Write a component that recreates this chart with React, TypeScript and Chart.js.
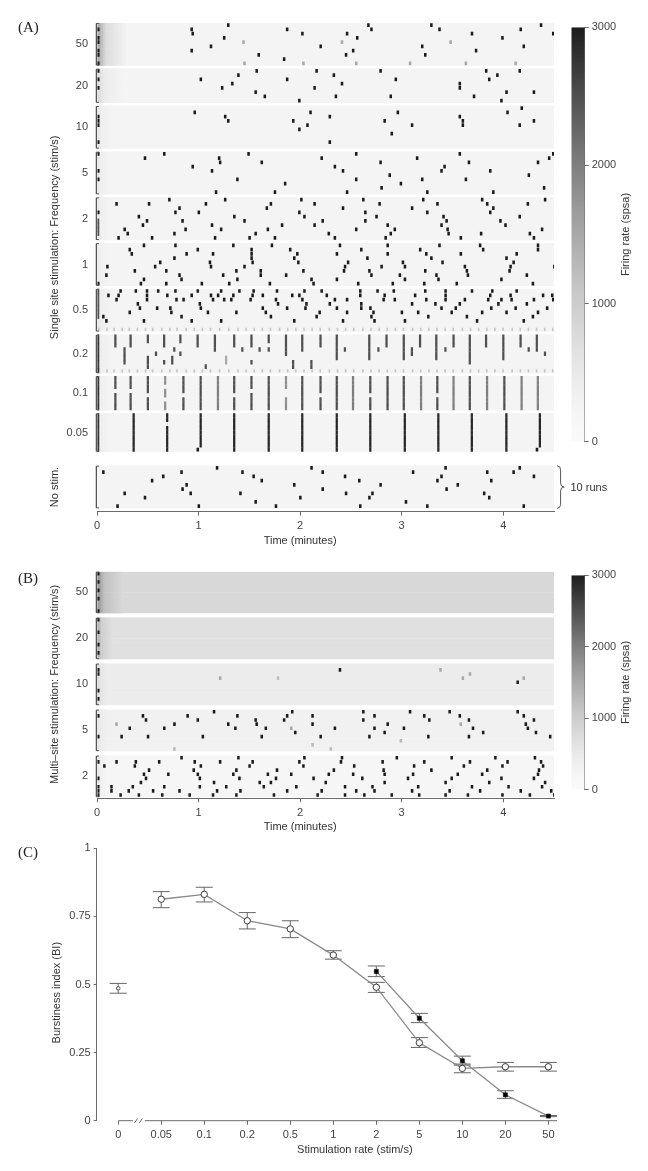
import React, { useEffect, useRef } from 'react';
import { Chart, registerables } from 'chart.js';

Chart.register(...registerables);

// ---------------- shared values ----------------
const TIME_MAX = 4.5; // minutes
const TIME_TICKS = [0, 1, 2, 3, 4];
const RATE_MAX = 3000; // spsa
const COLORBAR_TICKS = [0, 1000, 2000, 3000];
const DOT_RATE = 3000;
const VBAR_RATE = 2500;
const STIM_RATE = 1100;

// Stimulus-locked weak responses (minutes), seen in one row of the 0.5 and 0.2 strips
const STIM_TICKS = [0.01, 0.09, 0.16, 0.24, 0.31, 0.39, 0.47, 0.54, 0.63, 0.71, 0.78, 0.87, 0.95, 1.03, 1.11, 1.2, 1.29, 1.38, 1.46, 1.54, 1.62, 1.7, 1.79, 1.87, 1.95, 2.03, 2.11, 2.19, 2.28, 2.36, 2.44, 2.52, 2.61, 2.69, 2.77, 2.85, 2.93, 3.01, 3.1, 3.18, 3.26, 3.34, 3.42, 3.5, 3.59, 3.67, 3.75, 3.83, 3.91, 3.99, 4.08, 4.16, 4.24, 4.32, 4.4, 4.48];

// ---------------- Panel A: single-site stimulation ----------------
const A_LABELS = ['50', '20', '10', '5', '2', '1', '0.5', '0.2', '0.1', '0.05', ''];
const A_RUNS = [10, 8, 10, 10, 10, 10, 10, 9, 8, 9, 10];
const A_BASE = [260, 250, 250, 250, 250, 250, 250, 250, 250, 250, 250];
const A_ONSET = [1600, 800, 600, 600, 600, 500, 600, 600, 600, 600, 0];
const A_ONSET_DUR = [0.3, 0.25, 0.15, 0.12, 0.12, 0.12, 0.15, 0.15, 0.12, 0.12, 0];

// bursts: [time (min), run, peak rate]
const A50_DOTS = [[0, 1], [0, 3], [0, 4], [0, 6], [0, 7], [0, 9], [0.92, 1], [0.93, 2], [1.28, 0], [1.24, 3], [1.11, 5], [0.92, 6], [1.43, 4, 1500], [1.58, 7], [1.44, 9, 1500], [1.86, 1], [2.01, 2], [1.83, 8], [2.02, 9, 1500], [2.19, 5], [2.66, 0], [2.69, 1], [2.45, 2], [2.55, 3], [2.4, 4, 1500], [2.51, 6], [2.44, 7], [2.54, 9, 1500], [3.28, 0], [3.36, 1], [3.19, 5], [3.22, 7], [3.07, 9, 1500], [3.47, 4, 1500], [3.68, 2], [3.72, 6], [3.98, 3], [3.62, 9, 1500], [4.16, 1], [4.36, 0], [4.48, 2], [4.19, 5], [4.11, 9, 1500]];
const A20_DOTS = [[0, 0], [0, 2], [0, 4], [1.01, 2], [1.22, 4], [1.32, 3], [1.38, 1], [1.56, 0], [1.55, 5], [1.64, 6], [1.86, 2], [1.98, 7], [2.13, 4], [2.15, 0], [2.32, 1], [2.4, 3], [2.34, 6], [2.78, 0], [2.93, 2], [2.88, 6], [3.56, 3], [3.56, 4], [3.7, 6], [3.82, 0], [3.85, 2], [3.93, 1], [4.02, 5], [3.97, 7], [4.15, 0], [4.29, 5]];
const A10_DOTS = [[0, 2], [0, 3], [0, 4], [0, 8], [0.95, 1], [1.25, 2], [1.28, 3], [1.92, 3], [1.98, 5], [2.06, 4], [2.09, 1], [2.28, 2], [2.28, 8], [2.82, 3], [2.95, 1], [3.09, 4], [2.89, 6], [3.56, 2], [3.59, 3], [3.59, 4], [4.03, 1], [4.17, 0], [4.15, 4], [4.29, 3]];
const A5_DOTS = [[0, 0], [0, 4], [0, 6], [0.46, 1], [0.65, 0], [0.93, 3], [1.12, 4], [1.19, 1], [1.2, 2], [1.37, 6], [1.16, 9], [1.48, 0], [1.61, 2], [1.84, 7], [1.74, 9], [2.2, 1], [2.33, 3], [2.41, 4], [2.54, 0], [2.54, 6], [2.45, 9], [2.78, 2], [2.87, 5], [2.98, 7], [2.79, 8], [3.14, 1], [3.19, 6], [3.24, 9], [3.41, 3], [3.38, 4], [3.56, 0], [3.65, 2], [3.62, 6], [3.86, 4], [3.89, 9], [4.24, 5], [4.33, 2], [4.44, 1], [4.48, 0], [4.39, 8]];
const A2_DOTS = [[0, 3], [0.7, 0], [1.25, 0], [2.0, 0], [2.61, 0], [3.2, 0], [3.78, 0], [4.4, 0], [0.18, 1], [0.4, 4], [0.44, 6], [0.48, 5], [0.26, 7], [0.29, 8], [0.2, 9], [0.5, 1], [0.53, 9], [0.76, 3], [0.8, 2], [0.83, 5], [0.86, 7], [0.75, 8], [0.99, 3], [1.06, 1], [1.12, 6], [1.21, 7], [1.15, 9], [1.34, 4], [1.44, 5], [1.55, 8], [1.49, 9], [1.66, 2], [1.7, 1], [1.67, 7], [1.81, 6], [1.74, 9], [1.98, 3], [2.03, 4], [2.13, 1], [2.13, 6], [2.21, 5], [2.41, 2], [2.63, 3], [2.63, 5], [2.74, 4], [2.77, 1], [2.54, 7], [2.27, 8], [2.33, 9], [2.85, 6], [2.88, 8], [2.92, 7], [2.83, 9], [3.09, 2], [3.24, 3], [3.34, 1], [3.4, 4], [3.43, 5], [3.38, 6], [3.44, 7], [3.45, 8], [3.57, 9], [3.83, 1], [3.86, 3], [3.89, 2], [3.96, 5], [4.01, 6], [3.77, 8], [4.23, 1], [4.15, 4], [4.25, 8], [4.29, 9], [4.37, 7]];
const A1_DOTS = [[0, 9], [0.31, 1], [0.33, 2], [0.45, 0], [0.09, 5], [0.08, 7], [0.36, 6], [0.45, 8], [0.42, 9], [0.56, 5], [0.61, 4], [0.67, 6], [0.67, 9], [0.76, 0], [0.75, 3], [0.87, 2], [0.8, 7], [0.82, 8], [0.98, 1], [1.1, 4], [1.11, 5], [1.13, 2], [1.02, 9], [1.23, 7], [1.33, 0], [1.36, 6], [1.37, 8], [1.29, 9], [1.51, 1], [1.51, 2], [1.51, 3], [1.52, 4], [1.44, 5], [1.6, 6], [1.6, 7], [1.69, 9], [1.71, 0], [1.89, 1], [1.93, 3], [1.96, 2], [1.97, 4], [1.85, 7], [2.02, 6], [2.1, 8], [2.12, 9], [2.35, 2], [2.38, 0], [2.46, 4], [2.43, 5], [2.42, 6], [2.35, 8], [2.59, 1], [2.65, 3], [2.67, 6], [2.69, 7], [2.56, 9], [2.85, 0], [2.85, 2], [2.79, 5], [3.0, 4], [3.02, 5], [2.97, 7], [3.02, 8], [2.9, 9], [3.17, 1], [3.23, 2], [3.28, 3], [3.39, 4], [3.36, 0], [3.22, 6], [3.33, 7], [3.35, 8], [3.21, 9], [3.57, 2], [3.61, 5], [3.63, 6], [3.64, 7], [3.53, 9], [3.76, 0], [3.79, 1], [4.02, 3], [4.05, 6], [4.09, 4], [4.12, 2], [4.06, 5], [3.97, 8], [4.22, 7], [4.33, 0], [4.33, 1], [4.28, 9], [4.49, 5]];
const A05_DOTS = [[0.1, 1], [0.18, 2], [0.2, 1], [0.22, 0], [0.05, 6], [0.08, 7], [0.31, 5], [0.37, 0], [0.39, 3], [0.41, 4], [0.45, 7], [0.48, 0], [0.48, 1], [0.48, 2], [0.59, 0], [0.58, 4], [0.68, 1], [0.71, 4], [0.72, 5], [0.77, 2], [0.76, 0], [0.82, 6], [0.84, 2], [0.92, 1], [0.92, 7], [0.98, 0], [1.0, 3], [1.01, 4], [1.08, 5], [1.11, 1], [1.13, 2], [1.18, 1], [1.21, 0], [1.21, 7], [1.24, 2], [1.31, 2], [1.33, 1], [1.36, 5], [1.39, 0], [1.5, 2], [1.52, 1], [1.53, 0], [1.62, 1], [1.62, 4], [1.65, 5], [1.7, 6], [1.75, 2], [1.76, 0], [1.77, 3], [1.86, 4], [1.91, 1], [1.93, 7], [1.98, 1], [2.01, 2], [2.03, 0], [2.04, 4], [2.05, 3], [2.15, 6], [2.18, 5], [2.2, 0], [2.25, 1], [2.28, 3], [2.33, 2], [2.35, 4], [2.41, 7], [2.45, 2], [2.45, 5], [2.58, 0], [2.58, 1], [2.59, 3], [2.59, 4], [2.68, 4], [2.69, 6], [2.72, 7], [2.71, 5], [2.75, 0], [2.81, 2], [2.82, 1], [2.91, 0], [2.92, 2], [2.99, 5], [3.02, 7], [3.09, 3], [3.12, 1], [3.15, 5], [3.22, 0], [3.23, 2], [3.25, 6], [3.32, 3], [3.38, 4], [3.42, 0], [3.42, 1], [3.42, 2], [3.48, 5], [3.52, 4], [3.56, 3], [3.63, 6], [3.61, 2], [3.68, 0], [3.73, 7], [3.78, 5], [3.84, 2], [3.86, 1], [3.87, 4], [3.88, 0], [3.94, 3], [3.97, 2], [4.02, 5], [4.06, 1], [4.07, 2], [4.11, 4], [4.12, 0], [4.19, 7], [4.22, 3], [4.28, 6], [4.29, 2], [4.33, 5], [4.38, 1], [4.42, 4], [4.47, 1], [4.48, 2]];
const A005_DOTS = [[0.98, 8], [4.32, 8]];
const NOSTIM_DOTS = [[0.05, 1], [0.19, 9], [0.26, 6], [0.46, 7], [0.53, 3], [0.64, 2], [0.82, 1], [0.83, 5], [0.87, 4], [0.91, 6], [0.99, 9], [1.17, 0], [1.42, 1], [1.53, 2], [1.61, 3], [1.4, 6], [1.55, 8], [1.75, 9], [1.93, 4], [1.99, 7], [2.1, 0], [2.21, 1], [2.21, 5], [2.43, 2], [2.44, 6], [2.57, 3], [2.58, 9], [2.67, 7], [2.7, 6], [2.78, 4], [3.03, 8], [3.1, 1], [3.24, 9], [3.42, 0], [3.38, 2], [3.34, 3], [3.43, 5], [3.54, 4], [3.83, 1], [3.87, 3], [3.8, 6], [3.85, 7], [4.09, 1], [4.15, 0], [4.29, 2], [4.19, 9]];

// stimulus-locked bursts spanning several runs: [time, first run, last run, peak rate]
const A2_VBARS = [[0, 5, 8]];
const A05_VBARS = [[0, 0, 6]];
const A02_VBARS = [[0, 0, 8, 2800], [0.17, 0, 2], [0.26, 3, 6], [0.32, 0, 2], [0.49, 0, 1], [0.49, 5, 7], [0.57, 4, 4], [0.65, 0, 2], [0.65, 6, 6], [0.73, 5, 6], [0.75, 3, 3], [0.81, 0, 1], [0.81, 4, 4], [0.98, 0, 2], [1.15, 0, 3], [1.06, 7, 7], [1.26, 5, 6, 1500], [1.34, 0, 2], [1.42, 3, 3], [1.51, 0, 2], [1.51, 6, 6], [1.59, 3, 3], [1.68, 0, 1], [1.68, 3, 3], [1.85, 0, 4], [1.92, 6, 7], [2.01, 0, 3], [2.1, 6, 7], [2.19, 0, 2], [2.35, 0, 5], [2.43, 3, 3], [2.67, 0, 5], [2.76, 3, 3], [2.84, 0, 2], [3.01, 0, 5], [3.09, 3, 4], [3.17, 0, 2], [3.33, 0, 5], [3.42, 3, 3], [3.5, 0, 2], [3.66, 0, 6], [3.82, 0, 2], [3.99, 0, 5], [4.16, 0, 2], [4.24, 3, 3], [4.32, 0, 3], [4.4, 4, 4]];
const A01_VBARS = [[0, 0, 7, 2800], [0.17, 0, 2], [0.17, 4, 7], [0.32, 0, 2], [0.32, 4, 7], [0.49, 0, 3], [0.49, 5, 7], [0.66, 0, 1, 1800], [0.66, 3, 4, 1800], [0.66, 6, 7, 1800], [0.84, 0, 3], [0.84, 5, 7], [1.01, 0, 7], [1.18, 0, 7, 2000], [1.34, 0, 3], [1.34, 5, 7], [1.51, 0, 2], [1.51, 4, 7], [1.68, 0, 7], [1.85, 0, 2, 1800], [1.85, 5, 7, 1800], [2.01, 0, 7], [2.19, 0, 3], [2.19, 5, 7], [2.35, 0, 7], [2.51, 0, 7, 2000], [2.68, 0, 3], [2.68, 5, 7], [2.85, 0, 7], [3.01, 0, 7], [3.18, 0, 7, 2000], [3.34, 0, 3], [3.34, 5, 7], [3.5, 0, 7, 2000], [3.66, 0, 7], [3.83, 0, 7, 2000], [4.0, 0, 7], [4.17, 0, 7, 2000], [4.33, 0, 7, 2000]];
const A005_VBARS = [[0, 0, 8, 2800], [0.35, 0, 8, 2900], [0.68, 0, 1, 2900], [0.68, 3, 8, 2900], [1.01, 0, 7, 2900], [1.34, 0, 8, 2900], [1.68, 0, 8, 2900], [2.01, 0, 8, 2900], [2.35, 0, 8, 2900], [2.68, 0, 8, 2900], [3.02, 0, 8, 2900], [3.35, 0, 8, 2900], [3.68, 0, 8, 2900], [4.02, 0, 8, 2900], [4.35, 0, 7, 2900]];

// ---------------- Panel B: multi-site stimulation ----------------
const B_LABELS = ['50', '20', '10', '5', '2'];
const B_RUNS = [10, 10, 10, 10, 10];
const B_BASE = [820, 680, 450, 330, 200];
const B_ONSET = [1800, 1500, 900, 700, 700];
const B_ONSET_DUR = [0.25, 0.15, 0.1, 0.1, 0.1];

const B50_DOTS = [[0, 0], [0, 2], [0, 4], [0, 6], [0, 9]];
const B20_DOTS = [[0, 0], [0, 3], [0, 6], [0, 8]];
const B10_DOTS = [[0, 1], [0, 2], [0, 6], [0, 8], [1.2, 3, 1500], [1.77, 3, 1200], [2.38, 1], [3.37, 1, 1500], [3.59, 3, 1500], [3.66, 2, 1500], [4.13, 4], [4.19, 3, 1500]];
const B5_DOTS = [[0, 1], [0, 6], [0.18, 3, 1500], [0.23, 6], [0.31, 4], [0.44, 1], [0.47, 2], [0.49, 6], [0.65, 4], [0.75, 3], [0.75, 9, 1300], [0.88, 1], [0.98, 2], [1.03, 6], [1.14, 0], [1.28, 3], [1.35, 4], [1.37, 1], [1.55, 2], [1.56, 3], [1.65, 4], [1.61, 6], [1.83, 2], [1.86, 1], [1.91, 0], [1.9, 4, 1500], [1.94, 5], [2.11, 3], [2.11, 1], [2.11, 8, 1300], [2.19, 6], [2.33, 4], [2.29, 9, 1300], [2.61, 0], [2.61, 2], [2.72, 1], [2.72, 4], [2.67, 6], [2.85, 3], [2.82, 5], [2.98, 7, 1300], [3.01, 4], [3.07, 0], [3.21, 1], [3.26, 2], [3.25, 6], [3.46, 0], [3.56, 1], [3.65, 2], [3.57, 3, 1500], [3.69, 4], [3.65, 6], [3.79, 5], [4.13, 0], [4.19, 1], [4.29, 2], [4.21, 3], [4.23, 4], [4.31, 5], [4.45, 6]];
const B2_DOTS = [[0, 1], [0, 5], [0, 7], [0, 8], [0, 9], [0.06, 2], [0.13, 7], [0.13, 8], [0.18, 1], [0.22, 9], [0.3, 8], [0.34, 7], [0.36, 2], [0.37, 1], [0.42, 6], [0.45, 4], [0.47, 5], [0.5, 3], [0.4, 9], [0.54, 8], [0.6, 1], [0.65, 7], [0.69, 4], [0.63, 9], [0.8, 8], [0.82, 0], [0.9, 9], [0.94, 3], [0.95, 1], [0.98, 4], [1.0, 5], [1.0, 7], [1.01, 2], [1.14, 6], [1.17, 8], [1.13, 9], [1.2, 1], [1.26, 7], [1.33, 4], [1.36, 3], [1.38, 0], [1.39, 5], [1.4, 8], [1.36, 9], [1.49, 2], [1.52, 1], [1.59, 6], [1.63, 7], [1.67, 4], [1.73, 9], [1.7, 6], [1.76, 3], [1.75, 5], [1.86, 8], [1.9, 4], [1.95, 7], [1.98, 1], [2.03, 0], [2.02, 2], [2.12, 5], [2.16, 9], [2.2, 8], [2.24, 6], [2.27, 4], [2.32, 3], [2.39, 1], [2.4, 0], [2.43, 7], [2.43, 9], [2.51, 4], [2.52, 2], [2.54, 8], [2.6, 5], [2.62, 9], [2.7, 7], [2.72, 8], [2.8, 1], [2.81, 3], [2.82, 4], [2.82, 6], [2.89, 9], [2.94, 0], [3.05, 5], [3.1, 4], [3.11, 2], [3.09, 8], [3.15, 7], [3.16, 9], [3.21, 1], [3.28, 3], [3.42, 6], [3.42, 9], [3.46, 8], [3.48, 5], [3.48, 0], [3.54, 4], [3.6, 2], [3.66, 1], [3.64, 9], [3.68, 7], [3.76, 8], [3.78, 4], [3.83, 3], [3.85, 6], [3.91, 0], [3.97, 5], [3.98, 2], [4.03, 1], [3.98, 9], [4.04, 7], [4.16, 8], [4.25, 9], [4.3, 0], [4.36, 1], [4.38, 2], [4.34, 3], [4.33, 4], [4.29, 5], [4.4, 6], [4.37, 7], [4.46, 8], [4.49, 9]];

// ---------------- Panel C: burstiness index ----------------
const C_LABELS = ['0', '0.05', '0.1', '0.2', '0.5', '1', '2', '5', '10', '20', '50'];
const SINGLE_MEAN = [0.486, 0.813, 0.831, 0.734, 0.704, 0.608, 0.49, 0.286, 0.192, 0.198, 0.198];
const SINGLE_LO = [0.468, 0.782, 0.803, 0.704, 0.672, 0.593, 0.471, 0.269, 0.176, 0.182, 0.182];
const SINGLE_HI = [0.504, 0.841, 0.857, 0.764, 0.734, 0.624, 0.508, 0.305, 0.208, 0.214, 0.214];
const MULTI_RATES = ['2', '5', '10', '20', '50'];
const MULTI_MEAN = [0.548, 0.376, 0.22, 0.095, 0.017];
const MULTI_LO = [0.529, 0.36, 0.204, 0.082, 0.015];
const MULTI_HI = [0.568, 0.394, 0.237, 0.11, 0.019];
const C_Y_TICKS = [0, 0.25, 0.5, 0.75, 1];

// ---------------- styling ----------------
const FONT = '"Liberation Sans", Arial, Helvetica, sans-serif';
const SERIF = '"Liberation Serif", "Times New Roman", serif';
const TICK_COLOR = '#444';
const TITLE_COLOR = '#333';
const AXIS_COLOR = '#6a6a6a';
const DOT_W = 0.025; // burst width in minutes
const VBAR_W = 0.022;
const STIM_W = 0.016;
const DOT_H = 3.6; // px

Chart.defaults.font.family = FONT;
Chart.defaults.color = TICK_COLOR;

function grayLevel(v: number) {
  const f = Math.max(0, Math.min(1, v / RATE_MAX));
  return Math.round(250 - 222 * Math.pow(f, 1.45));
}
function gray(v: number) {
  const g = grayLevel(v);
  return `rgb(${g},${g},${g})`;
}

function vText(ctx: any, text: string, x: number, y: number, size = 11, color = TITLE_COLOR) {
  ctx.save();
  ctx.translate(x, y);
  ctx.rotate(-Math.PI / 2);
  ctx.font = `${size}px ${FONT}`;
  ctx.fillStyle = color;
  ctx.textAlign = 'center';
  ctx.textBaseline = 'middle';
  ctx.fillText(text, 0, 0);
  ctx.restore();
}
function hText(ctx: any, text: string, x: number, y: number, align = 'center', size = 11, color = TITLE_COLOR) {
  ctx.save();
  ctx.font = `${size}px ${FONT}`;
  ctx.fillStyle = color;
  ctx.textAlign = align;
  ctx.textBaseline = 'middle';
  ctx.fillText(text, x, y);
  ctx.restore();
}

const onsetFill = (c: any) => {
  const raw = c.raw;
  const chart = c.chart;
  if (!raw || !chart.chartArea) return 'rgba(0,0,0,0)';
  const xs = chart.scales.x;
  const x0 = xs.getPixelForValue(raw.x[0]);
  const x1 = xs.getPixelForValue(raw.x[1]);
  const g = chart.ctx.createLinearGradient(x0, 0, x1, 0);
  g.addColorStop(0, gray(raw.v));
  g.addColorStop(0.3, gray(raw.b + (raw.v - raw.b) * 0.35));
  g.addColorStop(1, gray(raw.b));
  return g;
};

function rasterConfig(p: any) {
  const tops: number[] = [];
  let acc = 0;
  p.runs.forEach((n: number, i: number) => {
    acc += p.gaps[i];
    tops.push(acc);
    acc += n;
  });
  const yMax = acc + p.bottomPad;
  const rowPx = (p.areaBottom - p.areaTop) / yMax;
  const rc = (s: number, r: number) => tops[s] + r + 0.5;

  const bg: any[] = [], onset: any[] = [], dots: any[] = [], cols: any[] = [], stim: any[] = [];
  p.runs.forEach((n: number, s: number) => {
    for (let r = 0; r < n; r++) {
      bg.push({ x: [0, TIME_MAX], y: rc(s, r), v: p.base[s] });
      if (p.onset[s] > 0) onset.push({ x: [0, p.onsetDur[s]], y: rc(s, r), v: p.onset[s], b: p.base[s] });
    }
  });
  p.dots.forEach((list: any[], s: number) =>
    list.forEach((d: any) => dots.push({ x: [d[0], d[0] + DOT_W], y: rc(s, d[1]), v: d[2] ?? DOT_RATE }))
  );
  p.vbars.forEach((list: any[], s: number) =>
    list.forEach((b: any) => {
      for (let r = b[1]; r <= b[2]; r++) cols.push({ x: [b[0], b[0] + VBAR_W], y: rc(s, r), v: b[3] ?? VBAR_RATE });
    })
  );
  p.stim.forEach((st: any) =>
    STIM_TICKS.forEach((t) => stim.push({ x: [t, t + STIM_W], y: rc(st.strip, st.run), v: STIM_RATE }))
  );

  const colorOf = (c: any) => gray(c.raw ? c.raw.v : 0);
  const barBase = { type: 'bar', indexAxis: 'y', grouped: false, borderWidth: 0, inflateAmount: 0 };
  const datasets: any[] = [
    { ...barBase, data: bg, barThickness: rowPx + 0.4, backgroundColor: colorOf, order: 9 },
    { ...barBase, data: onset, barThickness: rowPx + 0.4, backgroundColor: onsetFill, order: 8 },
    { ...barBase, data: stim, barThickness: DOT_H - 0.4, backgroundColor: colorOf, order: 7 },
    { ...barBase, data: cols, barThickness: rowPx + 0.3, backgroundColor: colorOf, order: 6 },
    { ...barBase, data: dots, barThickness: DOT_H, backgroundColor: colorOf, order: 5 },
  ];
  p.runs.forEach((n: number, s: number) => {
    const t0 = tops[s] + 0.1;
    const t1 = tops[s] + n - 0.1;
    datasets.push({
      type: 'line',
      data: [{ x: 0.02, y: t0 }, { x: -0.006, y: t0 }, { x: -0.006, y: t1 }, { x: 0.02, y: t1 }],
      borderColor: '#555',
      borderWidth: 1,
      pointRadius: 0,
      fill: false,
      tension: 0,
      clip: false,
      order: 0,
    });
  });

  const labelled = p.labels.map((l: string, i: number) => ({ l, i })).filter((o: any) => o.l !== '');

  const textPlugin = {
    id: 'rasterText' + p.key,
    afterDraw(chart: any) {
      const { ctx, scales, chartArea } = chart;
      const y = scales.y;
      const x = scales.x;
      const s0 = p.titleStrips[0];
      const s1 = p.titleStrips[1];
      const mid = y.getPixelForValue((tops[s0] + tops[s1] + p.runs[s1]) / 2);
      vText(ctx, p.yTitle, 55, mid);
      if (p.extraTitle) {
        const si = p.extraTitle.strip;
        vText(ctx, p.extraTitle.text, 55, y.getPixelForValue(tops[si] + p.runs[si] / 2));
      }
      hText(ctx, 'Time (minutes)', x.getPixelForValue(2), chartArea.bottom + 29);
      if (p.brace) {
        const si = p.brace.strip;
        const ya = y.getPixelForValue(tops[si]);
        const yb = y.getPixelForValue(tops[si] + p.runs[si]);
        const ym = (ya + yb) / 2;
        const bx = chartArea.right + 3;
        const w = 3.6;
        ctx.save();
        ctx.strokeStyle = '#555';
        ctx.lineWidth = 1;
        ctx.beginPath();
        ctx.moveTo(bx, ya);
        ctx.quadraticCurveTo(bx + w, ya, bx + w, ya + 4);
        ctx.lineTo(bx + w, ym - 4);
        ctx.quadraticCurveTo(bx + w, ym, bx + 2 * w, ym);
        ctx.quadraticCurveTo(bx + w, ym, bx + w, ym + 4);
        ctx.lineTo(bx + w, yb - 4);
        ctx.quadraticCurveTo(bx + w, yb, bx, yb);
        ctx.stroke();
        ctx.restore();
        hText(ctx, p.brace.text, chartArea.right + 16.5, ym + 0.5, 'left', 11);
      }
    },
  };

  return {
    type: 'line',
    data: { datasets },
    options: {
      responsive: false,
      animation: false,
      devicePixelRatio: 1,
      events: [],
      layout: { padding: { left: 0, right: p.padRight, top: p.areaTop - p.canvasTop, bottom: p.padBottom } },
      plugins: { legend: { display: false }, tooltip: { enabled: false } },
      scales: {
        x: {
          type: 'linear',
          min: 0,
          max: TIME_MAX,
          offset: false,
          afterBuildTicks: (s: any) => {
            s.ticks = TIME_TICKS.map((v) => ({ value: v }));
          },
          ticks: { color: TICK_COLOR, font: { family: FONT, size: 11 }, padding: 4, maxRotation: 0, autoSkip: false, callback: (v: any) => String(v) },
          grid: { display: true, drawOnChartArea: false, drawTicks: true, tickLength: 4, color: AXIS_COLOR, offset: false },
          border: { display: true, color: AXIS_COLOR, width: 1 },
          afterFit: (s: any) => {
            s.height = p.xAxisH;
          },
        },
        y: {
          type: 'linear',
          min: 0,
          max: yMax,
          reverse: true,
          offset: false,
          afterBuildTicks: (s: any) => {
            s.ticks = labelled.map((o: any) => ({ value: tops[o.i] + p.runs[o.i] / 2 }));
          },
          ticks: {
            color: TICK_COLOR,
            font: { family: FONT, size: 11 },
            padding: 9,
            autoSkip: false,
            callback: (_v: any, i: number) => labelled[i] ? labelled[i].l : '',
          },
          grid: { display: false, drawTicks: false },
          border: { display: false },
          afterFit: (s: any) => {
            s.width = p.yAxisW;
          },
        },
      },
    },
    plugins: [textPlugin],
  };
}

function colorbarConfig(key: string) {
  const fill = (c: any) => {
    const chart = c.chart;
    if (!chart.chartArea) return '#999';
    const ys = chart.scales.y;
    const g = chart.ctx.createLinearGradient(0, ys.getPixelForValue(0), 0, ys.getPixelForValue(RATE_MAX));
    for (let k = 0; k <= 20; k++) g.addColorStop(k / 20, gray((k / 20) * RATE_MAX));
    return g;
  };
  const titlePlugin = {
    id: 'cbTitle' + key,
    afterDraw(chart: any) {
      const { ctx, chartArea } = chart;
      vText(ctx, 'Firing rate (spsa)', chartArea.right + 41, (chartArea.top + chartArea.bottom) / 2);
    },
  };
  return {
    type: 'bar',
    data: {
      labels: [''],
      datasets: [{ data: [[0, RATE_MAX]], backgroundColor: fill, barPercentage: 1, categoryPercentage: 1, borderWidth: 0, inflateAmount: 0 }],
    },
    options: {
      responsive: false,
      animation: false,
      devicePixelRatio: 1,
      events: [],
      layout: { padding: { left: 11.3, right: 0, top: 12.3, bottom: 13.3 } },
      plugins: { legend: { display: false }, tooltip: { enabled: false } },
      scales: {
        x: { display: false },
        y: {
          position: 'right',
          min: 0,
          max: RATE_MAX,
          afterBuildTicks: (s: any) => {
            s.ticks = COLORBAR_TICKS.map((v) => ({ value: v }));
          },
          ticks: { color: TICK_COLOR, font: { family: FONT, size: 11 }, padding: 3, callback: (v: any) => String(v) },
          grid: { display: true, drawOnChartArea: false, drawTicks: true, tickLength: 4, color: AXIS_COLOR },
          border: { display: true, color: AXIS_COLOR },
          afterFit: (s: any) => {
            s.width = 63.3;
          },
        },
      },
    },
    plugins: [titlePlugin],
  };
}

function burstinessConfig() {
  const idx = (lab: string) => C_LABELS.indexOf(lab);
  const stems: any[] = [];
  const caps: any[] = [];
  C_LABELS.forEach((_l, i) => {
    stems.push({ x: i, y: [SINGLE_LO[i], SINGLE_HI[i]] });
    caps.push({ x: i, y: SINGLE_LO[i] }, { x: i, y: SINGLE_HI[i] });
  });
  MULTI_RATES.forEach((lab, k) => {
    stems.push({ x: idx(lab), y: [MULTI_LO[k], MULTI_HI[k]] });
    caps.push({ x: idx(lab), y: MULTI_LO[k] }, { x: idx(lab), y: MULTI_HI[k] });
  });
  const single = SINGLE_MEAN.map((m, i) => ({ x: i, y: m })).filter((pt) => pt.x > 0);
  const multi = MULTI_RATES.map((lab, k) => ({ x: idx(lab), y: MULTI_MEAN[k] }));
  const axisLine = { type: 'line', borderColor: AXIS_COLOR, borderWidth: 1, pointRadius: 0, fill: false, tension: 0, clip: false, order: 10 };
  const datasets: any[] = [
    { ...axisLine, data: [{ x: 0, y: 0 }, { x: 0.34, y: 0 }] },
    { ...axisLine, data: [{ x: 0.38, y: -0.008 }, { x: 0.45, y: 0.008 }] },
    { ...axisLine, data: [{ x: 0.49, y: -0.008 }, { x: 0.56, y: 0.008 }] },
    { ...axisLine, data: [{ x: 0.62, y: 0 }, { x: 10.2, y: 0 }] },
    { type: 'bar', data: stems, barThickness: 1, backgroundColor: '#666', grouped: false, borderWidth: 0, inflateAmount: 0, order: 6 },
    { type: 'scatter', data: caps, pointStyle: 'line', pointRadius: 8.5, borderColor: '#666', borderWidth: 1, showLine: false, clip: false, order: 5 },
    { type: 'line', data: single, borderColor: '#8a8a8a', borderWidth: 1.3, pointStyle: 'circle', pointRadius: 3.2, pointBackgroundColor: '#fff', pointBorderColor: '#3a3a3a', pointBorderWidth: 1, tension: 0, fill: false, clip: false, order: 2 },
    { type: 'line', data: multi, borderColor: '#8a8a8a', borderWidth: 1.3, pointStyle: 'rect', pointRadius: 2.9, pointBackgroundColor: '#000', pointBorderColor: '#000', pointBorderWidth: 0.5, tension: 0, fill: false, clip: false, order: 1 },
    { type: 'scatter', data: [{ x: 0, y: SINGLE_MEAN[0] }], pointStyle: 'circle', pointRadius: 1.8, pointBackgroundColor: '#fff', pointBorderColor: '#555', pointBorderWidth: 1, clip: false, order: 1 },
  ];
  const textPlugin = {
    id: 'cText',
    afterDraw(chart: any) {
      const { ctx, scales, chartArea } = chart;
      hText(ctx, 'Stimulation rate (stim/s)', scales.x.getPixelForValue(5.5), chartArea.bottom + 29.5);
      vText(ctx, 'Burstiness index (BI)', 56.7, scales.y.getPixelForValue(0.47));
    },
  };
  return {
    type: 'line',
    data: { datasets },
    options: {
      responsive: false,
      animation: false,
      devicePixelRatio: 1,
      events: [],
      layout: { padding: { left: 0, right: 91, top: 12.3, bottom: 10.3 } },
      plugins: { legend: { display: false }, tooltip: { enabled: false } },
      scales: {
        x: {
          type: 'linear',
          min: -0.5,
          max: 10.2,
          offset: false,
          afterBuildTicks: (s: any) => {
            s.ticks = C_LABELS.map((_l, i) => ({ value: i }));
          },
          ticks: { color: TICK_COLOR, font: { family: FONT, size: 11 }, padding: 4, maxRotation: 0, autoSkip: false, callback: (_v: any, i: number) => C_LABELS[i] },
          grid: { display: true, drawOnChartArea: false, drawTicks: true, tickLength: 4, color: AXIS_COLOR, offset: false },
          border: { display: false },
          afterFit: (s: any) => {
            s.height = 40;
          },
        },
        y: {
          type: 'linear',
          min: 0,
          max: 1,
          afterBuildTicks: (s: any) => {
            s.ticks = C_Y_TICKS.map((v) => ({ value: v }));
          },
          ticks: { color: TICK_COLOR, font: { family: FONT, size: 11 }, padding: 3, callback: (v: any) => String(v) },
          grid: { display: true, drawOnChartArea: false, drawTicks: true, tickLength: 3, color: AXIS_COLOR },
          border: { display: true, color: AXIS_COLOR, width: 1 },
          afterFit: (s: any) => {
            s.width = 96.7;
          },
        },
      },
    },
    plugins: [textPlugin],
  };
}

export default function App() {
  const aRef = useRef<HTMLCanvasElement>(null);
  const aCbRef = useRef<HTMLCanvasElement>(null);
  const bRef = useRef<HTMLCanvasElement>(null);
  const bCbRef = useRef<HTMLCanvasElement>(null);
  const cRef = useRef<HTMLCanvasElement>(null);

  useEffect(() => {
    const aGaps = A_RUNS.map((_r, i) => (i === 0 ? 0 : i === A_RUNS.length - 1 ? 3.3 : 0.75));
    const aCfg = rasterConfig({
      key: 'A',
      labels: A_LABELS,
      runs: A_RUNS,
      gaps: aGaps,
      bottomPad: 0.8,
      base: A_BASE,
      onset: A_ONSET,
      onsetDur: A_ONSET_DUR,
      dots: [A50_DOTS, A20_DOTS, A10_DOTS, A5_DOTS, A2_DOTS, A1_DOTS, A05_DOTS, [], [], A005_DOTS, NOSTIM_DOTS],
      vbars: [[], [], [], [], A2_VBARS, [], A05_VBARS, A02_VBARS, A01_VBARS, A005_VBARS, []],
      stim: [{ strip: 6, run: 9 }, { strip: 7, run: 8 }],
      canvasTop: 0,
      areaTop: 23,
      areaBottom: 511.7,
      padRight: 94,
      padBottom: 2,
      xAxisH: 38.3,
      yAxisW: 97,
      yTitle: 'Single site stimulation: Frequency (stim/s)',
      titleStrips: [0, 9],
      extraTitle: { strip: 10, text: 'No stim.' },
      brace: { strip: 10, text: '10 runs' },
    });
    const bGaps = B_RUNS.map((_r, i) => (i === 0 ? 0 : 1.1));
    const bCfg = rasterConfig({
      key: 'B',
      labels: B_LABELS,
      runs: B_RUNS,
      gaps: bGaps,
      bottomPad: 0.3,
      base: B_BASE,
      onset: B_ONSET,
      onsetDur: B_ONSET_DUR,
      dots: [B50_DOTS, B20_DOTS, B10_DOTS, B5_DOTS, B2_DOTS],
      vbars: [[], [], [], [], []],
      stim: [],
      canvasTop: 552,
      areaTop: 571.7,
      areaBottom: 798.3,
      padRight: 94,
      padBottom: 5.4,
      xAxisH: 38.3,
      yAxisW: 97,
      yTitle: 'Multi\u2013site stimulation: Frequency (stim/s)',
      titleStrips: [0, 4],
    });
    const charts = [
      new Chart(aRef.current as any, aCfg as any),
      new Chart(aCbRef.current as any, colorbarConfig('A') as any),
      new Chart(bRef.current as any, bCfg as any),
      new Chart(bCbRef.current as any, colorbarConfig('B') as any),
      new Chart(cRef.current as any, burstinessConfig() as any),
    ];
    return () => charts.forEach((c) => c.destroy());
  }, []);

  const letter = (top: number): React.CSSProperties => ({
    position: 'absolute',
    left: 18,
    top,
    font: `15px ${SERIF}`,
    lineHeight: '18px',
    color: '#222',
  });

  return (
    <div style={{ position: 'absolute', left: 0, top: 0, width: 648, height: 1171, background: '#fff', overflow: 'hidden' }}>
      <canvas ref={aRef} width={648} height={552} style={{ position: 'absolute', left: 0, top: 0 }} />
      <canvas ref={aCbRef} width={88} height={440} style={{ position: 'absolute', left: 560, top: 15 }} />
      <canvas ref={bRef} width={648} height={290} style={{ position: 'absolute', left: 0, top: 552 }} />
      <canvas ref={bCbRef} width={88} height={240} style={{ position: 'absolute', left: 560, top: 563 }} />
      <canvas ref={cRef} width={648} height={335} style={{ position: 'absolute', left: 0, top: 836 }} />
      <div style={letter(18)}>(A)</div>
      <div style={letter(569)}>(B)</div>
      <div style={letter(842.5)}>(C)</div>
    </div>
  );
}
